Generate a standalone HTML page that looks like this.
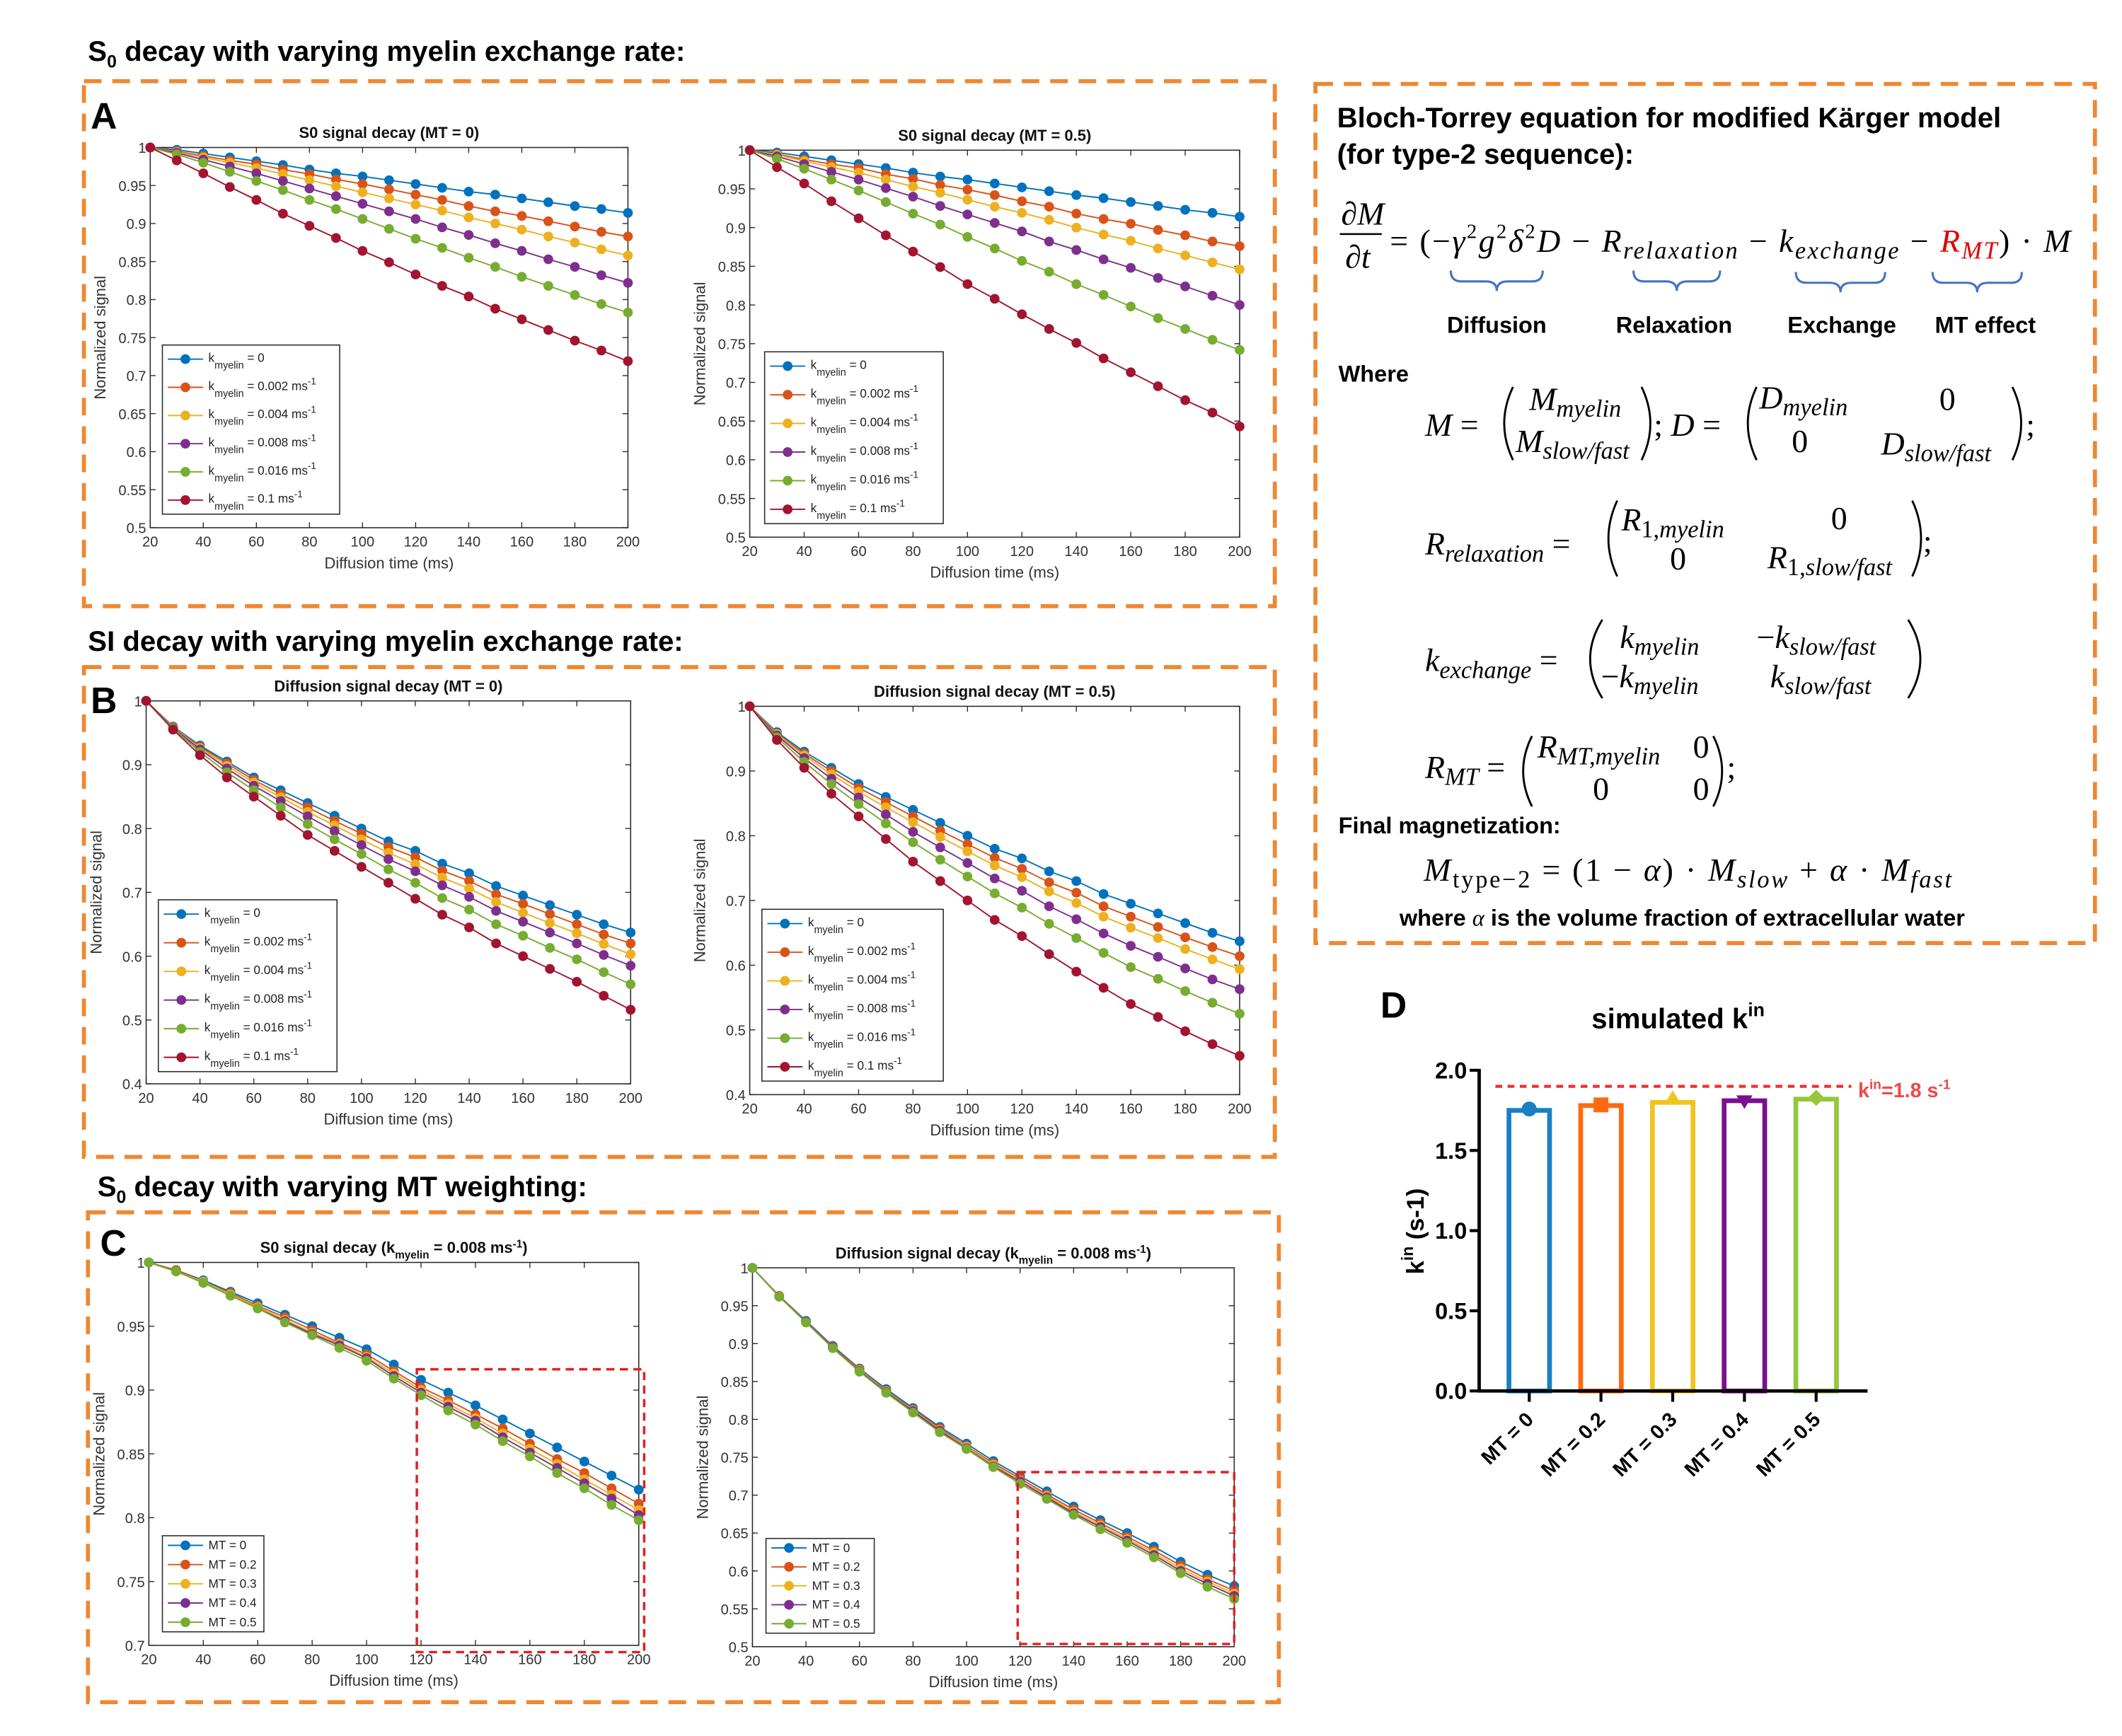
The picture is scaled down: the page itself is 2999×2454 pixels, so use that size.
<!DOCTYPE html>
<html><head><meta charset="utf-8"><style>
html,body{margin:0;padding:0;background:#fff;}
svg{display:block;}
.t{font-family:"Liberation Sans",sans-serif;}
.m{font-family:"Liberation Serif",serif;font-style:italic;}
</style></head><body>
<svg id="fig" width="2999" height="2454" viewBox="0 0 1568 1283" preserveAspectRatio="none" xmlns="http://www.w3.org/2000/svg">
<rect width="1568" height="1283" fill="#fff"/>
<text class="t" x="65" y="45" font-size="21" font-weight="bold">S<tspan font-size="13" dy="5">0</tspan><tspan dy="-5"> decay with varying myelin exchange rate:</tspan></text>
<text class="t" x="65" y="481" font-size="21" font-weight="bold">SI decay with varying myelin exchange rate:</text>
<text class="t" x="72" y="884" font-size="21" font-weight="bold">S<tspan font-size="13" dy="5">0</tspan><tspan dy="-5"> decay with varying MT weighting:</tspan></text>
<g fill="none" stroke="#ee8833" stroke-width="3" stroke-dasharray="13 8">
<rect x="62" y="60" width="880" height="388"/>
<rect x="62" y="493" width="880" height="362"/>
<rect x="65" y="896" width="880" height="362"/>
<rect x="972" y="62" width="576" height="635"/>
</g>
<text class="t" x="67" y="95" font-size="27" font-weight="bold">A</text>
<text class="t" x="67" y="527" font-size="27" font-weight="bold">B</text>
<text class="t" x="74" y="928" font-size="27" font-weight="bold">C</text>
<text class="t" x="1020" y="752" font-size="27" font-weight="bold">D</text>

<g>
<text class="t" x="988" y="94" font-size="21" font-weight="bold">Bloch-Torrey equation for modified Kärger model</text>
<text class="t" x="988" y="121" font-size="21" font-weight="bold">(for type-2 sequence):</text>
<text class="m" x="991" y="166" font-size="24">∂M</text>
<line x1="990" y1="173" x2="1021" y2="173" stroke="#000" stroke-width="1.3"/>
<text class="m" x="994" y="198" font-size="24">∂t</text>
<text class="m" x="1027" y="186" font-size="24" textLength="503" lengthAdjust="spacing"><tspan font-style="normal">= (−</tspan>γ<tspan font-size="15" dy="-10" font-style="normal">2</tspan><tspan dy="10">g</tspan><tspan font-size="15" dy="-10" font-style="normal">2</tspan><tspan dy="10">δ</tspan><tspan font-size="15" dy="-10" font-style="normal">2</tspan><tspan dy="10">D </tspan><tspan font-style="normal">− </tspan>R<tspan font-size="18" dy="5">relaxation</tspan><tspan dy="-5" font-style="normal"> − </tspan>k<tspan font-size="18" dy="5">exchange</tspan><tspan dy="-5" font-style="normal"> − </tspan><tspan fill="#e00000">R</tspan><tspan fill="#e00000" font-size="18" dy="5">MT</tspan><tspan dy="-5" font-style="normal">) · </tspan>M</text>
<g fill="none" stroke="#4472c4" stroke-width="1.6">
<path d="M1072,200 q0,8 8,8 h18 q8,0 8,7 q0,-7 8,-7 h18 q8,0 8,-8"/>
<path d="M1207,200 q0,8 8,8 h16 q8,0 8,7 q0,-7 8,-7 h16 q8,0 8,-8"/>
<path d="M1327,201 q0,8 8,8 h17 q8,0 8,7 q0,-7 8,-7 h17 q8,0 8,-8"/>
<path d="M1428,201 q0,8 8,8 h17 q8,0 8,7 q0,-7 8,-7 h17 q8,0 8,-8"/>
</g>
<g class="t" font-size="17" font-weight="bold" text-anchor="middle">
<text x="1106" y="246">Diffusion</text><text x="1237" y="246">Relaxation</text><text x="1361" y="246">Exchange</text><text x="1467" y="246">MT effect</text>
</g>
<text class="t" x="989" y="282" font-size="17" font-weight="bold">Where</text>
<g fill="none" stroke="#000" stroke-width="1.5">
<path d="M1118,286 Q1105,313 1118,340"/><path d="M1213,286 Q1226,313 1213,340"/>
<path d="M1298,286 Q1285,313 1298,340"/><path d="M1487,286 Q1500,313 1487,340"/>
<path d="M1195,370 Q1182,398 1195,426"/><path d="M1413,370 Q1426,398 1413,426"/>
<path d="M1184,458 Q1166,487 1184,516"/><path d="M1410,458 Q1428,487 1410,516"/>
<path d="M1132,544 Q1119,570 1132,596"/><path d="M1266,544 Q1279,570 1266,596"/>
</g>
<text class="m" x="1053" y="322" font-size="24">M <tspan font-style="normal">=</tspan></text>
<text class="m" x="1130" y="303" font-size="24">M<tspan font-size="18" dy="5">myelin</tspan></text>
<text class="m" x="1120" y="334" font-size="24">M<tspan font-size="18" dy="5">slow/fast</tspan></text>
<text class="m" x="1222" y="322" font-size="24"><tspan font-style="normal">; </tspan>D <tspan font-style="normal">=</tspan></text>
<text class="m" x="1300" y="302" font-size="24">D<tspan font-size="18" dy="5">myelin</tspan></text>
<text x="1433" y="303" font-size="24" font-family="Liberation Serif">0</text>
<text x="1324" y="334" font-size="24" font-family="Liberation Serif">0</text>
<text class="m" x="1390" y="336" font-size="24">D<tspan font-size="18" dy="5">slow/fast</tspan></text>
<text x="1497" y="322" font-size="24" font-family="Liberation Serif">;</text>
<text class="m" x="1053" y="410" font-size="24">R<tspan font-size="18" dy="5">relaxation</tspan><tspan dy="-5" font-style="normal"> =</tspan></text>
<text class="m" x="1198" y="392" font-size="24">R<tspan font-size="18" dy="5" font-style="normal">1,</tspan><tspan font-size="18">myelin</tspan></text>
<text x="1353" y="391" font-size="24" font-family="Liberation Serif">0</text>
<text x="1234" y="421" font-size="24" font-family="Liberation Serif">0</text>
<text class="m" x="1306" y="420" font-size="24">R<tspan font-size="18" dy="5" font-style="normal">1,</tspan><tspan font-size="18">slow/fast</tspan></text>
<text x="1421" y="408" font-size="24" font-family="Liberation Serif">;</text>
<text class="m" x="1053" y="496" font-size="24">k<tspan font-size="18" dy="5">exchange</tspan><tspan dy="-5" font-style="normal"> =</tspan></text>
<text class="m" x="1197" y="479" font-size="24">k<tspan font-size="18" dy="5">myelin</tspan></text>
<text class="m" x="1298" y="479" font-size="24"><tspan font-style="normal">−</tspan>k<tspan font-size="18" dy="5">slow/fast</tspan></text>
<text class="m" x="1183" y="508" font-size="24"><tspan font-style="normal">−</tspan>k<tspan font-size="18" dy="5">myelin</tspan></text>
<text class="m" x="1308" y="508" font-size="24">k<tspan font-size="18" dy="5">slow/fast</tspan></text>
<text class="m" x="1053" y="575" font-size="24">R<tspan font-size="18" dy="5">MT</tspan><tspan dy="-5" font-style="normal"> =</tspan></text>
<text class="m" x="1136" y="560" font-size="24">R<tspan font-size="18" dy="5">MT,myelin</tspan></text>
<text x="1251" y="560" font-size="24" font-family="Liberation Serif">0</text>
<text x="1177" y="591" font-size="24" font-family="Liberation Serif">0</text>
<text x="1251" y="591" font-size="24" font-family="Liberation Serif">0</text>
<text x="1276" y="575" font-size="24" font-family="Liberation Serif">;</text>
<text class="t" x="989" y="616" font-size="17" font-weight="bold">Final magnetization:</text>
<text class="m" x="1052" y="651" font-size="24" textLength="390" lengthAdjust="spacing">M<tspan font-size="18" dy="5" font-style="normal">type−2</tspan><tspan dy="-5" font-style="normal"> = (1 − </tspan>α<tspan font-style="normal">) · </tspan>M<tspan font-size="18" dy="5">slow</tspan><tspan dy="-5" font-style="normal"> + </tspan>α<tspan font-style="normal"> · </tspan>M<tspan font-size="18" dy="5">fast</tspan></text>
<text class="t" x="1243" y="684" font-size="17" font-weight="bold" text-anchor="middle">where <tspan font-weight="normal" font-family="Liberation Serif" font-style="italic">α</tspan> is the volume fraction of extracellular water</text>
</g>
<g id="plots"></g>
<g id="bars"></g>
</svg>
<script>
const diffusionTimes = [20,30,40,50,60,70,80,90,100,110,120,130,140,150,160,170,180,190,200];
const kLabels = ["0","0.002","0.004","0.008","0.016","0.1"];
const mtLabels = ["MT = 0","MT = 0.2","MT = 0.3","MT = 0.4","MT = 0.5"];
const colors = ["#0072BD","#D95319","#EDB120","#7E2F8E","#77AC30","#A2142F"];
const a1Blue=[1,.997,.992,.987,.982,.977,.971,.966,.962,.957,.952,.947,.942,.938,.933,.928,.923,.919,.914];
const a1Orange=[1,.995,.989,.983,.978,.971,.965,.958,.952,.945,.938,.931,.923,.916,.910,.903,.896,.889,.883];
const a1Yellow=[1,.994,.987,.980,.973,.965,.957,.949,.941,.933,.925,.917,.908,.900,.892,.883,.875,.866,.858];
const a1Purple=[1,.993,.984,.975,.966,.956,.946,.936,.926,.916,.906,.895,.885,.874,.864,.853,.843,.832,.822];
const a1Green=[1,.991,.980,.968,.956,.944,.931,.919,.906,.893,.880,.868,.855,.843,.830,.818,.806,.794,.783];
const a1Red=[1,.983,.966,.948,.931,.913,.897,.881,.864,.849,.833,.818,.804,.788,.774,.760,.746,.733,.719];
const a2Blue=[1,.997,.992,.987,.982,.977,.971,.966,.962,.957,.952,.947,.942,.938,.933,.928,.923,.919,.914];
const a2Orange=[1,.995,.988,.982,.977,.969,.963,.955,.949,.942,.934,.927,.918,.911,.905,.897,.890,.882,.876];
const a2Yellow=[1,.994,.986,.978,.971,.962,.953,.945,.936,.927,.919,.910,.900,.891,.883,.873,.864,.855,.846];
const a2Purple=[1,.992,.982,.972,.962,.951,.940,.928,.917,.906,.895,.882,.871,.859,.848,.835,.824,.812,.800];
const a2Green=[1,.989,.976,.962,.948,.933,.918,.904,.888,.873,.857,.843,.827,.813,.798,.783,.769,.755,.742];
const a2Red=[1,.978,.957,.934,.912,.890,.869,.849,.827,.808,.788,.769,.751,.731,.713,.695,.677,.661,.643];
const b1Blue=[1,.96,.93,.905,.88,.86,.84,.82,.80,.78,.765,.745,.73,.71,.695,.68,.665,.65,.637];
const b1Orange=[1,.959,.928,.902,.876,.854,.833,.812,.792,.771,.755,.734,.718,.697,.682,.666,.650,.634,.620];
const b1Yellow=[1,.959,.926,.898,.872,.849,.826,.805,.783,.762,.744,.723,.706,.685,.668,.652,.636,.619,.603];
const b1Purple=[1,.958,.924,.894,.867,.843,.819,.796,.774,.752,.733,.711,.693,.671,.654,.637,.620,.602,.585];
const b1Green=[1,.957,.920,.888,.860,.833,.807,.783,.760,.736,.715,.691,.673,.650,.632,.613,.595,.575,.556];
const b1Red=[1,.955,.915,.88,.85,.82,.79,.765,.74,.715,.69,.665,.645,.62,.60,.58,.56,.538,.516];
const b2Blue=[1,.96,.93,.905,.88,.86,.84,.82,.80,.78,.765,.745,.73,.71,.695,.68,.665,.65,.637];
const b2Orange=[1,.958,.927,.900,.874,.852,.830,.808,.787,.766,.749,.728,.712,.691,.675,.659,.643,.628,.614];
const b2Yellow=[1,.957,.924,.895,.868,.844,.821,.798,.776,.754,.736,.714,.696,.675,.658,.642,.625,.609,.594];
const b2Purple=[1,.955,.920,.888,.859,.833,.806,.782,.758,.734,.715,.691,.671,.649,.630,.613,.595,.578,.563];
const b2Green=[1,.952,.914,.880,.849,.819,.790,.763,.737,.711,.689,.664,.642,.619,.597,.579,.560,.542,.525];
const b2Red=[1,.948,.905,.865,.83,.795,.76,.73,.70,.67,.645,.617,.59,.565,.54,.52,.498,.478,.46];
const c1Mt0=[1,.994,.986,.977,.968,.959,.950,.941,.932,.920,.908,.898,.888,.877,.866,.855,.844,.833,.822];
const c1Mt02=[1,.994,.985,.976,.966,.957,.947,.937,.928,.915,.902,.892,.881,.870,.858,.846,.835,.823,.811];
const c1Mt03=[1,.993,.985,.975,.965,.955,.945,.936,.926,.913,.900,.889,.878,.866,.854,.842,.830,.818,.806];
const c1Mt04=[1,.993,.984,.974,.964,.954,.944,.935,.925,.911,.898,.887,.876,.863,.851,.839,.827,.815,.802];
const c1Mt05=[1,.993,.984,.974,.964,.953,.943,.933,.923,.909,.896,.884,.873,.860,.848,.835,.823,.810,.798];
const c2Mt0=[1,.963,.93,.897,.867,.84,.815,.79,.768,.745,.725,.705,.685,.667,.65,.632,.612,.595,.58];
const c2Mt02=[1,.963,.929,.896,.866,.838,.813,.788,.765,.742,.722,.701,.681,.663,.645,.627,.607,.589,.574];
const c2Mt03=[1,.962,.929,.895,.865,.837,.812,.786,.764,.740,.719,.699,.678,.660,.642,.624,.603,.586,.570];
const c2Mt04=[1,.962,.929,.895,.864,.836,.811,.785,.762,.738,.718,.697,.676,.658,.640,.621,.600,.583,.567];
const c2Mt05=[1,.962,.928,.894,.863,.835,.809,.783,.761,.737,.715,.695,.674,.655,.637,.618,.597,.579,.563];
const barCategories = ["MT = 0","MT = 0.2","MT = 0.3","MT = 0.4","MT = 0.5"];
const barValues = [1.75,1.78,1.80,1.81,1.82];
const barColors = ["#1a7fc4","#ff6a10","#f2c51e","#7a1090","#92c83a"];
const barYTicks = [0,0.5,1.0,1.5,2.0];
const referenceValue = 1.9;

const NS="http://www.w3.org/2000/svg";
function mk(tag,attrs,parent){const e=document.createElementNS(NS,tag);for(const k in attrs)e.setAttribute(k,attrs[k]);if(parent)parent.appendChild(e);return e;}

function plot(cfg){
  const root=document.getElementById('plots');
  const g=mk('g',{},root);
  
  
  const sx=v=>cfg.x0+(v-20)/180*(cfg.x1-cfg.x0);
  const sy=v=>cfg.y1-(v-cfg.ymin)/(cfg.ymax-cfg.ymin)*(cfg.y1-cfg.y0);
  const ax=mk('rect',{x:cfg.x0,y:cfg.y0,width:cfg.x1-cfg.x0,height:cfg.y1-cfg.y0,fill:'#fff',stroke:'#262626','stroke-width':0.8},g);
  
  
  for(let t=20;t<=200;t+=20){
    const x=sx(t);
    mk('line',{x1:x,x2:x,y1:cfg.y1,y2:cfg.y1-4,stroke:'#262626','stroke-width':0.7},g);
    mk('line',{x1:x,x2:x,y1:cfg.y0,y2:cfg.y0+4,stroke:'#262626','stroke-width':0.7},g);
    const tl=mk('text',{x:x,y:cfg.y1+14,'font-size':10.5,'text-anchor':'middle',fill:'#333',class:'t'},g);
    tl.textContent=t;
    
    
  }
  const n=Math.round((cfg.ymax-cfg.ymin)/cfg.ystep);
  for(let i=0;i<=n;i++){
    const v=cfg.ymin+i*cfg.ystep;const y=sy(v);
    mk('line',{x1:cfg.x0,x2:cfg.x0+4,y1:y,y2:y,stroke:'#262626','stroke-width':0.7},g);
    mk('line',{x1:cfg.x1,x2:cfg.x1-4,y1:y,y2:y,stroke:'#262626','stroke-width':0.7},g);
    const tl=mk('text',{x:cfg.x0-3,y:y+4,'font-size':10.5,'text-anchor':'end',fill:'#333',class:'t'},g);
    tl.textContent=(Math.round(v*100)/100).toString();
    
    
  }
  const xl=mk('text',{x:(cfg.x0+cfg.x1)/2,y:cfg.y1+30,'font-size':11.5,'text-anchor':'middle',fill:'#333',class:'t'},g);
  xl.textContent='Diffusion time (ms)';
  
  
  const yx=cfg.x0-33, yy=(cfg.y0+cfg.y1)/2;
  const yl=mk('text',{x:yx,y:yy,'font-size':11.5,'text-anchor':'middle',fill:'#333',class:'t',transform:`rotate(-90 ${yx} ${yy})`},g);
  yl.textContent='Normalized signal';
  
  
  const tt=mk('text',{x:(cfg.x0+cfg.x1)/2,y:cfg.y0-7,'font-size':11.5,'font-weight':'bold','text-anchor':'middle',fill:'#111',class:'t'},g);
  
  
  tt.innerHTML=cfg.title;
  cfg.series.forEach((s,si)=>{
    const pts=s.map((v,i)=>sx(diffusionTimes[i]).toFixed(2)+','+sy(v).toFixed(2)).join(' ');
    const pl=mk('polyline',{points:pts,fill:'none',stroke:colors[cfg.colorIdx[si]],'stroke-width':1},g);
    
    
    s.forEach((v,i)=>{
      const c=mk('circle',{cx:sx(diffusionTimes[i]),cy:sy(v),r:3.6,fill:colors[cfg.colorIdx[si]]},g);
      
      
    });
  });
  if(cfg.redbox){
    const r=mk('rect',{x:cfg.redbox[0],y:cfg.redbox[1],width:cfg.redbox[2],height:cfg.redbox[3],fill:'none',stroke:'#e02020','stroke-width':1.8,'stroke-dasharray':'6 4'},g);
    
    
  }
  const L=cfg.legend;
  const lg=mk('g',{},g);
  
  
  mk('rect',{x:L.x,y:L.y,width:L.w,height:L.h,fill:'#fff',stroke:'#262626','stroke-width':0.8},lg);
  const step=L.h/cfg.series.length;
  cfg.series.forEach((s,si)=>{
    const y=L.y+step*(si+0.5);
    const col=colors[cfg.colorIdx[si]];
    const e=mk('g',{},lg);
    
    
    mk('line',{x1:L.x+4,x2:L.x+30,y1:y,y2:y,stroke:col,'stroke-width':1},e);
    mk('circle',{cx:L.x+17,cy:y,r:3.6,fill:col},e);
    const t=mk('text',{x:L.x+34,y:y+2,'font-size':9,fill:'#222',class:'t'},e);
    if(cfg.mt){t.setAttribute('y',y+3);t.textContent=mtLabels[si];}
    else{
      const lab=kLabels[si];
      if(lab==='0') t.innerHTML='k<tspan font-size="7.5" dy="5">myelin</tspan><tspan dy="-5"> = 0</tspan>';
      else t.innerHTML='k<tspan font-size="7.5" dy="5">myelin</tspan><tspan dy="-5"> = '+lab+' ms</tspan><tspan font-size="7" dy="-4">-1</tspan>';
    }
  });
}

plot({name:'plot-a-mt0',x0:111,x1:464,y0:109,y1:390,ymin:0.5,ymax:1,ystep:0.05,title:'S0 signal decay (MT = 0)',
  series:[a1Blue,a1Orange,a1Yellow,a1Purple,a1Green,a1Red],colorIdx:[0,1,2,3,4,5],legend:{x:120,y:255,w:131,h:125}});
plot({name:'plot-a-mt05',x0:554,x1:916,y0:111,y1:397,ymin:0.5,ymax:1,ystep:0.05,title:'S0 signal decay (MT = 0.5)',
  series:[a2Blue,a2Orange,a2Yellow,a2Purple,a2Green,a2Red],colorIdx:[0,1,2,3,4,5],legend:{x:565,y:260,w:132,h:127}});
plot({name:'plot-b-mt0',x0:108,x1:466,y0:518,y1:801,ymin:0.4,ymax:1,ystep:0.1,title:'Diffusion signal decay (MT = 0)',
  series:[b1Blue,b1Orange,b1Yellow,b1Purple,b1Green,b1Red],colorIdx:[0,1,2,3,4,5],legend:{x:117,y:665,w:132,h:127}});
plot({name:'plot-b-mt05',x0:554,x1:916,y0:522,y1:809,ymin:0.4,ymax:1,ystep:0.1,title:'Diffusion signal decay (MT = 0.5)',
  series:[b2Blue,b2Orange,b2Yellow,b2Purple,b2Green,b2Red],colorIdx:[0,1,2,3,4,5],legend:{x:563,y:672,w:134,h:127}});
plot({name:'plot-c-s0',x0:110,x1:472,y0:933,y1:1216,ymin:0.7,ymax:1,ystep:0.05,mt:true,
  title:'S0 signal decay (k<tspan font-size="8" dy="4">myelin</tspan><tspan dy="-4"> = 0.008 ms</tspan><tspan font-size="8" dy="-4">-1</tspan><tspan dy="4">)</tspan>',
  series:[c1Mt0,c1Mt02,c1Mt03,c1Mt04,c1Mt05],colorIdx:[0,1,2,3,4],legend:{x:120,y:1135,w:75,h:71},redbox:[308,1012,168,209]});
plot({name:'plot-c-diffusion',x0:556,x1:912,y0:937,y1:1217,ymin:0.5,ymax:1,ystep:0.05,mt:true,
  title:'Diffusion signal decay (k<tspan font-size="8" dy="4">myelin</tspan><tspan dy="-4"> = 0.008 ms</tspan><tspan font-size="8" dy="-4">-1</tspan><tspan dy="4">)</tspan>',
  series:[c2Mt0,c2Mt02,c2Mt03,c2Mt04,c2Mt05],colorIdx:[0,1,2,3,4],legend:{x:566,y:1137,w:80,h:70},redbox:[752,1088,160,127]});

(function(){
  const g=document.getElementById('bars');
  
  
  const y0=1028,y2=791,xAxis0=1093,xAxis1=1380;
  const sy=v=>y0-v/2*(y0-y2);
  const cx=i=>1130+i*53;
  const t=mk('text',{x:1240,y:760,'font-size':21,'font-weight':'bold','text-anchor':'middle',class:'t'},g);
  t.innerHTML='simulated k<tspan font-size="14" dy="-9">in</tspan>';
  
  
  barValues.forEach((v,i)=>{
    const b=mk('rect',{x:cx(i)-15,y:sy(v),width:30,height:y0-sy(v),fill:'#fff',stroke:barColors[i],'stroke-width':3.5},g);
    
    
    const my=sy(v), x=cx(i), c=barColors[i];
    let m;
    if(i===0) m=mk('circle',{cx:x,cy:my-1,r:5.5,fill:c},g);
    else if(i===1) m=mk('rect',{x:x-5.5,y:my-6,width:11,height:11,fill:c},g);
    else if(i===2) m=mk('path',{d:`M${x},${my-9} l6,10 h-12z`,fill:c},g);
    else if(i===3) m=mk('path',{d:`M${x},${my+6} l6,-10 h-12z`,fill:c},g);
    else m=mk('path',{d:`M${x},${my-7} l6,6 l-6,6 l-6,-6z`,fill:c},g);
    
    
    mk('line',{x1:x,x2:x,y1:y0,y2:y0+8,stroke:'#000','stroke-width':2.2},g);
    const lbl=mk('text',{x:x+4,y:y0+22,'font-size':15,'font-weight':'bold','text-anchor':'end',class:'t',transform:`rotate(-45 ${x+4} ${y0+22})`},g);
    lbl.textContent=barCategories[i];
    
    
  });
  const ref=mk('line',{x1:1105,x2:1368,y1:sy(referenceValue),y2:sy(referenceValue),stroke:'#f03030','stroke-width':2.2,'stroke-dasharray':'5 4'},g);
  
  
  const rl=mk('text',{x:1373,y:sy(referenceValue)+8,'font-size':15,'font-weight':'bold',fill:'#f04848',class:'t'},g);
  rl.innerHTML='k<tspan font-size="10" dy="-6">in</tspan><tspan dy="6">=1.8 s</tspan><tspan font-size="10" dy="-6">-1</tspan>';
  
  
  mk('line',{x1:xAxis0,x2:xAxis0,y1:y2-1,y2:y0+1,stroke:'#000','stroke-width':2.5},g);
  mk('line',{x1:xAxis0-1,x2:xAxis1,y1:y0,y2:y0,stroke:'#000','stroke-width':2.5},g);
  barYTicks.forEach(v=>{
    const y=sy(v);
    mk('line',{x1:xAxis0-7,x2:xAxis0,y1:y,y2:y,stroke:'#000','stroke-width':2.2},g);
    const tl=mk('text',{x:xAxis0-9,y:y+6,'font-size':17,'font-weight':'bold','text-anchor':'end',class:'t'},g);
    tl.textContent=v.toFixed(1);
    
    
  });
  const yt=mk('text',{x:1052,y:910,'font-size':18,'font-weight':'bold','text-anchor':'middle',class:'t',transform:'rotate(-90 1052 910)'},g);
  yt.innerHTML='k<tspan font-size="12" dy="-8">in</tspan><tspan dy="8"> (s-1)</tspan>';
  
  
})();
</script>
</body></html>
